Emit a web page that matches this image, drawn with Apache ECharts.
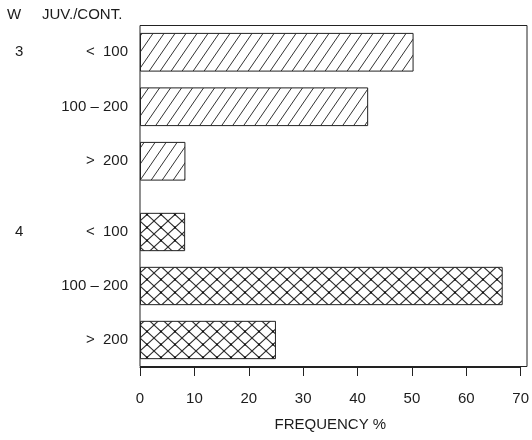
<!DOCTYPE html>
<html>
<head>
<meta charset="utf-8">
<script src="https://cdn.jsdelivr.net/npm/echarts@6/dist/echarts.min.js"></script>
<style>
html,body{margin:0;padding:0;background:#fff;}
#main{width:532px;height:440px;}
</style>
</head>
<body>
<div id="main"></div>
<script>
// ---- data ----
const categories = ['<  100', '100 – 200', '>  200'];
const groupLabels = ['3', '4'];
const w3Values = [50, 41.7, 8.3];
const w4Values = [8.3, 66.7, 25];
const xMin = 0, xMax = 70, xStep = 10;
const xName = 'FREQUENCY %';
const headerW = 'W';
const headerJuv = 'JUV./CONT.';

const FONT = '"Liberation Sans", Arial, Helvetica, sans-serif';
const INK = '#1c1c1c';

function hatchPattern() {
  const w = 11, h = 16;
  const c = document.createElement('canvas');
  c.width = w; c.height = h;
  const g = c.getContext('2d');
  g.fillStyle = '#fff'; g.fillRect(0, 0, w, h);
  g.strokeStyle = '#333'; g.lineWidth = 1;
  for (const dx of [-w, 0, w]) {
    g.beginPath(); g.moveTo(dx, h); g.lineTo(dx + w, 0); g.stroke();
  }
  return c;
}
function crossPattern() {
  const w = 14, h = 13;
  const c = document.createElement('canvas');
  c.width = w; c.height = h;
  const g = c.getContext('2d');
  g.fillStyle = '#fff'; g.fillRect(0, 0, w, h);
  g.strokeStyle = '#2a2a2a'; g.lineWidth = 1.1;
  for (const dx of [-w, 0, w]) {
    g.beginPath(); g.moveTo(dx, 0); g.lineTo(dx + w, h); g.stroke();
    g.beginPath(); g.moveTo(dx, h); g.lineTo(dx + w, 0); g.stroke();
  }
  g.fillStyle = '#111';
  g.fillRect(w / 2 - 1, h / 2 - 1, 2, 2);
  return c;
}

const chart = echarts.init(document.getElementById('main'), null, {renderer: 'canvas'});

const catAxis = (gi) => ({
  type: 'category', gridIndex: gi, data: categories, inverse: true,
  axisLine: {show: false}, axisTick: {show: false}, splitLine: {show: false},
  axisLabel: {margin: 12, fontSize: 15, color: INK, fontFamily: FONT}
});

chart.setOption({
  backgroundColor: '#fff',
  animation: false,
  grid: [
    {left: 140, right: 9, top: 25, height: 163.5},
    {left: 140, right: 9, top: 205, height: 162},
    {left: 140, right: 5, top: 25.5, bottom: 73.5, show: true, borderColor: '#222', borderWidth: 1, backgroundColor: 'transparent', z: 5}
  ],
  xAxis: [
    {type: 'value', gridIndex: 0, min: xMin, max: xMax, interval: xStep, show: false},
    {type: 'value', gridIndex: 1, min: xMin, max: xMax, interval: xStep,
     axisLine: {show: true, lineStyle: {color: '#222', width: 1}},
     axisTick: {show: true, inside: false, length: 9, lineStyle: {color: '#222'}},
     splitLine: {show: false},
     axisLabel: {margin: 24, fontSize: 15, color: INK, fontFamily: FONT},
     name: xName, nameLocation: 'middle', nameGap: 50,
     nameTextStyle: {fontSize: 15, color: INK, fontFamily: FONT}},
    {type: 'value', gridIndex: 2, show: false}
  ],
  yAxis: [
    catAxis(0),
    catAxis(1),
    {type: 'value', gridIndex: 2, show: false}
  ],
  series: [
    {type: 'bar', xAxisIndex: 0, yAxisIndex: 0, data: w3Values, barWidth: '71%',
     itemStyle: {color: {image: hatchPattern(), repeat: 'repeat'}, borderColor: '#222', borderWidth: 1}},
    {type: 'bar', xAxisIndex: 1, yAxisIndex: 1, data: w4Values, barWidth: '71%',
     itemStyle: {color: {image: crossPattern(), repeat: 'repeat'}, borderColor: '#222', borderWidth: 1}}
  ],
  graphic: [
    {type: 'text', left: 7, top: 7, style: {text: headerW, fontSize: 15, fill: INK, fontFamily: FONT}},
    {type: 'text', left: 42, top: 7, style: {text: headerJuv, fontSize: 15, fill: INK, fontFamily: FONT}},
    {type: 'text', left: 15, top: 44, style: {text: groupLabels[0], fontSize: 15, fill: INK, fontFamily: FONT}},
    {type: 'text', left: 15, top: 224, style: {text: groupLabels[1], fontSize: 15, fill: INK, fontFamily: FONT}}
  ]
});
</script>
</body>
</html>
